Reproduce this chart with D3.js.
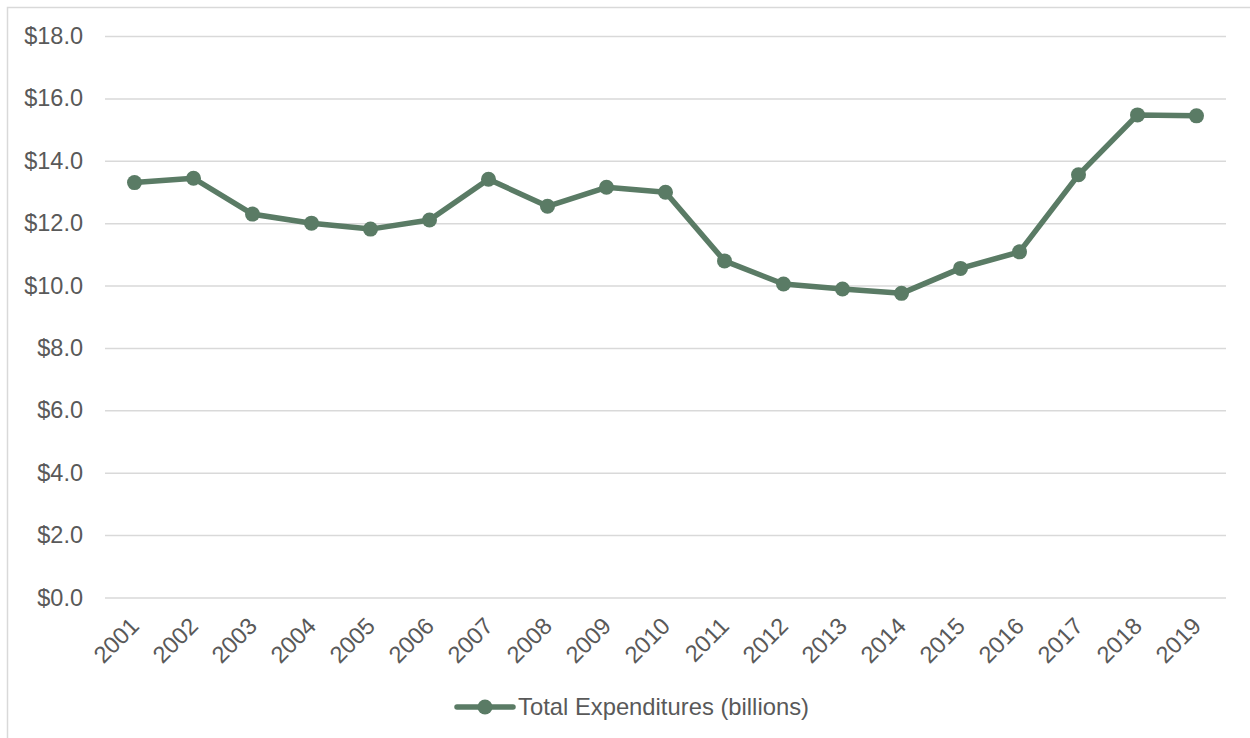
<!DOCTYPE html>
<html>
<head>
<meta charset="utf-8">
<script src="https://cdn.jsdelivr.net/npm/d3@7"></script>
<style>
  html, body { margin: 0; padding: 0; background: #ffffff; }
  svg { display: block; }
  text { font-family: "Liberation Sans", Arial, sans-serif; fill: #595959; }
</style>
</head>
<body>
<svg id="chart" width="1250" height="738"></svg>
<script>
// Annual total expenditures, in billions of dollars
const years = ["2001","2002","2003","2004","2005","2006","2007","2008","2009","2010",
               "2011","2012","2013","2014","2015","2016","2017","2018","2019"];
const expenditures = [13.30, 13.44, 12.29, 12.00, 11.81, 12.10, 13.41, 12.54, 13.15, 12.99,
                      10.79, 10.05, 9.89, 9.75, 10.55, 11.08, 13.55, 15.47, 15.44];
const yTicks = [0, 2, 4, 6, 8, 10, 12, 14, 16, 18];
const seriesName = "Total Expenditures (billions)";

const W = 1250, H = 738;
const plot = { left: 105, right: 1226, top: 36, bottom: 597.5 };
const lineColor = "#5a7b65";

const svg = d3.select("#chart");

// outer chart frame
svg.append("rect")
  .attr("x", 7.5).attr("y", 7.5)
  .attr("width", W).attr("height", H)
  .attr("fill", "none")
  .attr("stroke", "#d9d9d9")
  .attr("stroke-width", 1.5);

const x = d3.scaleBand().domain(years).range([plot.left, plot.right]);
const y = d3.scaleLinear().domain([0, 18]).range([plot.bottom, plot.top]);

// horizontal gridlines and dollar labels
const yAxis = d3.axisLeft(y)
  .tickValues(yTicks)
  .tickSize(-(plot.right - plot.left))
  .tickPadding(22)
  .tickFormat(d => "$" + d3.format(".1f")(d));

const gy = svg.append("g")
  .attr("transform", `translate(${plot.left},0)`)
  .call(yAxis);
gy.select(".domain").remove();
gy.selectAll(".tick line").attr("stroke", "#d9d9d9").attr("stroke-width", 1.5);
gy.selectAll(".tick text")
  .attr("font-size", "23.5px")
  .attr("fill", "#595959");

// year labels, rotated
const xAxis = d3.axisBottom(x).tickSize(0).tickPadding(0);
const gx = svg.append("g")
  .attr("transform", `translate(0,${plot.bottom})`)
  .call(xAxis);
gx.select(".domain").remove();
gx.selectAll(".tick text")
  .attr("font-size", "23.5px")
  .attr("fill", "#595959")
  .attr("text-anchor", "end")
  .attr("dy", null)
  .attr("y", 0)
  .attr("transform", "translate(6,30) rotate(-45)");

// series line
const line = d3.line()
  .x((d, i) => x(years[i]) + x.bandwidth() / 2)
  .y(d => y(d));

svg.append("path")
  .datum(expenditures)
  .attr("d", line)
  .attr("fill", "none")
  .attr("stroke", lineColor)
  .attr("stroke-width", 5.5)
  .attr("stroke-linejoin", "round");

svg.append("g").selectAll("circle")
  .data(expenditures)
  .join("circle")
  .attr("cx", (d, i) => x(years[i]) + x.bandwidth() / 2)
  .attr("cy", d => y(d))
  .attr("r", 7.5)
  .attr("fill", lineColor);

// legend
const lg = svg.append("g").attr("transform", "translate(457,707)");
lg.append("line")
  .attr("x1", 0).attr("x2", 56)
  .attr("y1", 0).attr("y2", 0)
  .attr("stroke", lineColor)
  .attr("stroke-width", 5.5)
  .attr("stroke-linecap", "round");
lg.append("circle").attr("cx", 28).attr("cy", 0).attr("r", 7.5).attr("fill", lineColor);
lg.append("text")
  .attr("x", 61).attr("y", 0)
  .attr("dy", "0.35em")
  .attr("font-size", "23.8px")
  .text(seriesName);
</script>
</body>
</html>
